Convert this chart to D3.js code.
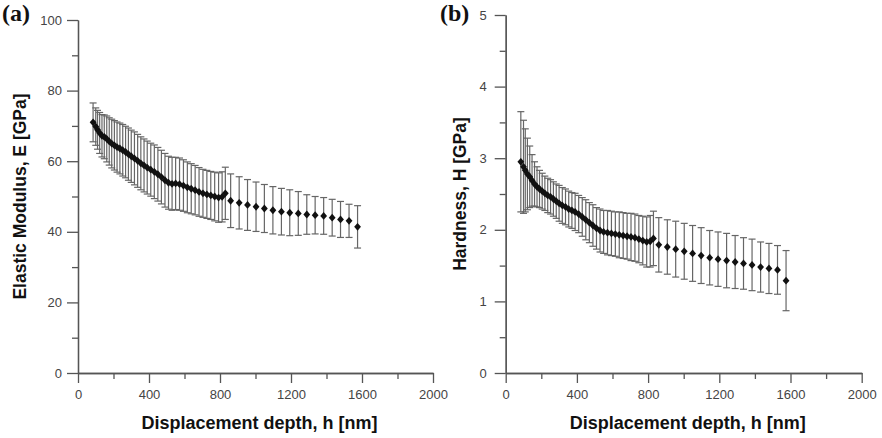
<!DOCTYPE html>
<html>
<head>
<meta charset="utf-8">
<script src="https://cdn.jsdelivr.net/npm/d3@7"></script>
<style>
  html, body { margin: 0; padding: 0; background: #fff; }
  svg { display: block; }
  .tick text { font-family: "Liberation Sans", Arial, sans-serif; font-size: 13px; fill: #444; }
  .axis path, .axis line { stroke: #555; stroke-width: 1.3px; }
</style>
</head>
<body>
<svg id="chart" width="882" height="438"></svg>
<script>
// ---------- DATA ----------
const depthDense = [85,100,110,122,135,148,162,176,190,205,220,236,252,268,284,300,318,336,354,372,390,410,430,450,470,490,510,530,550,572,594,616,638,660,682,704,726,748,770,792,812,830];
const depthSparse = [860,908,955,1003,1050,1098,1146,1193,1241,1289,1336,1384,1432,1479,1527,1575];

const modulusDense = [71.0,69.8,68.9,68.0,67.2,66.9,66.3,65.6,65.0,64.5,64.0,63.6,63.1,62.6,62.0,61.4,60.8,60.1,59.4,58.8,58.2,57.6,57.0,56.3,55.5,54.6,53.9,53.6,53.7,53.5,53.1,52.6,52.2,51.8,51.3,50.9,50.6,50.3,50.0,49.7,49.9,50.9];
const modulusErrDense = [5.5,5.3,5.5,5.8,6.0,6.2,6.5,6.7,6.9,7.0,7.1,7.2,7.3,7.3,7.4,7.4,7.5,7.5,7.5,7.5,7.5,7.5,7.6,7.6,7.6,7.6,7.5,7.5,7.4,7.4,7.3,7.2,7.1,7.0,6.9,6.8,6.8,6.8,6.9,7.0,7.1,7.4];
const modulusSparse = [48.8,48.2,47.6,47.1,46.6,46.1,45.7,45.4,45.2,44.9,44.7,44.5,44.0,43.5,43.1,41.4];
const modulusErrSparse = [7.6,7.4,7.2,7.0,6.8,6.7,6.6,6.5,6.2,5.6,5.3,5.2,5.2,5.1,4.7,6.0];

const hardnessDense = [2.95,2.88,2.83,2.78,2.74,2.69,2.64,2.60,2.57,2.54,2.51,2.48,2.46,2.43,2.40,2.37,2.34,2.32,2.29,2.27,2.25,2.22,2.18,2.14,2.10,2.06,2.02,1.99,1.97,1.96,1.95,1.94,1.93,1.92,1.91,1.90,1.89,1.87,1.85,1.83,1.84,1.88];
const hardnessErrDense = [0.70,0.65,0.58,0.50,0.43,0.36,0.31,0.28,0.26,0.25,0.24,0.24,0.24,0.24,0.24,0.25,0.25,0.25,0.25,0.25,0.26,0.26,0.27,0.28,0.28,0.29,0.29,0.30,0.30,0.31,0.31,0.31,0.32,0.32,0.32,0.33,0.33,0.33,0.34,0.35,0.36,0.38];
const hardnessSparse = [1.79,1.76,1.73,1.70,1.67,1.64,1.61,1.59,1.57,1.55,1.53,1.51,1.48,1.46,1.44,1.29];
const hardnessErrSparse = [0.38,0.38,0.39,0.39,0.39,0.39,0.38,0.38,0.38,0.37,0.36,0.36,0.35,0.35,0.34,0.42];

const xMajorTicks = [0,400,800,1200,1600,2000];
const xMinorTicks = [200,600,1000,1400,1800];
const yMajorTicksA = [0,20,40,60,80,100];
const yMinorTicksA = [10,30,50,70,90];
const yMajorTicksB = [0,1,2,3,4,5];
const yMinorTicksB = [0.5,1.5,2.5,3.5,4.5];

const xTitle = "Displacement depth, h [nm]";
const panels = [
  { label: "(a)", yTitle: "Elastic Modulus, E [GPa]",
    depth: depthDense.concat(depthSparse),
    val: modulusDense.concat(modulusSparse),
    err: modulusErrDense.concat(modulusErrSparse),
    yDomain: [0,100], yMajor: yMajorTicksA, yMinor: yMinorTicksA,
    xRange: [78,433], yRange: [373,20], yPad: 5, yTitleX: 26, labelX: 2 },
  { label: "(b)", yTitle: "Hardness, H [GPa]",
    depth: depthDense.concat(depthSparse),
    val: hardnessDense.concat(hardnessSparse),
    err: hardnessErrDense.concat(hardnessErrSparse),
    yDomain: [0,5], yMajor: yMajorTicksB, yMinor: yMinorTicksB,
    xRange: [505.7,861.7], yRange: [373,15], yPad: 8, yTitleX: 466, labelX: 440 }
];

// ---------- DRAW ----------
const svg = d3.select("#chart");

panels.forEach(p => {
  const x = d3.scaleLinear().domain([0,2000]).range(p.xRange);
  const y = d3.scaleLinear().domain(p.yDomain).range(p.yRange);
  const g = svg.append("g");

  // axes
  g.append("g").attr("class","axis")
    .attr("transform",`translate(0,${y(0)})`)
    .call(d3.axisBottom(x).tickValues(xMajorTicks).tickSize(10).tickSizeOuter(0).tickPadding(7).tickFormat(d3.format("d")));
  g.append("g").attr("class","axis")
    .attr("transform",`translate(0,${y(0)})`)
    .call(d3.axisBottom(x).tickValues(xMinorTicks).tickSize(6).tickSizeOuter(0).tickFormat(""));
  g.append("g").attr("class","axis")
    .attr("transform",`translate(${x(0)},0)`)
    .call(d3.axisLeft(y).tickValues(p.yMajor).tickSize(11).tickSizeOuter(0).tickPadding(p.yPad).tickFormat(d3.format("d")));
  g.append("g").attr("class","axis")
    .attr("transform",`translate(${x(0)},0)`)
    .call(d3.axisLeft(y).tickValues(p.yMinor).tickSize(6).tickSizeOuter(0).tickFormat(""));

  const pts = p.depth.map((d,i) => ({d, v: p.val[i], e: p.err[i]}));

  // error bars
  const eb = g.append("g").attr("stroke","#666").attr("stroke-width",1.2).attr("fill","none");
  pts.forEach(pt => {
    const cx = x(pt.d), yt = y(pt.v + pt.e), yb = y(pt.v - pt.e);
    eb.append("line").attr("x1",cx).attr("x2",cx).attr("y1",yt).attr("y2",yb);
    eb.append("line").attr("x1",cx-3.5).attr("x2",cx+3.5).attr("y1",yt).attr("y2",yt);
    eb.append("line").attr("x1",cx-3.5).attr("x2",cx+3.5).attr("y1",yb).attr("y2",yb);
  });

  // markers (diamonds)
  g.append("g").selectAll("path").data(pts).join("path")
    .attr("d", pt => {
      const cx = x(pt.d), cy = y(pt.v), w = 3.4, h = 3.9;
      return `M${cx},${cy-h}L${cx+w},${cy}L${cx},${cy+h}L${cx-w},${cy}Z`;
    })
    .attr("fill","#111");

  // axis titles
  g.append("text")
    .attr("x", (p.xRange[0]+p.xRange[1])/2 + 4).attr("y", 429)
    .attr("text-anchor","middle")
    .attr("font-family","'Liberation Sans', Arial, sans-serif")
    .attr("font-weight","bold").attr("font-size",18).attr("fill","#111")
    .text(xTitle);
  const cy = (p.yRange[0]+p.yRange[1])/2;
  g.append("text")
    .attr("transform",`translate(${p.yTitleX},${cy}) rotate(-90)`)
    .attr("text-anchor","middle")
    .attr("font-family","'Liberation Sans', Arial, sans-serif")
    .attr("font-weight","bold").attr("font-size",17.5).attr("fill","#111")
    .text(p.yTitle);

  // panel label
  g.append("text")
    .attr("x", p.labelX).attr("y", 21)
    .attr("font-family","'Liberation Serif', 'Times New Roman', serif")
    .attr("font-weight","bold").attr("font-size",24).attr("fill","#111")
    .text(p.label);
});
</script>
</body>
</html>
